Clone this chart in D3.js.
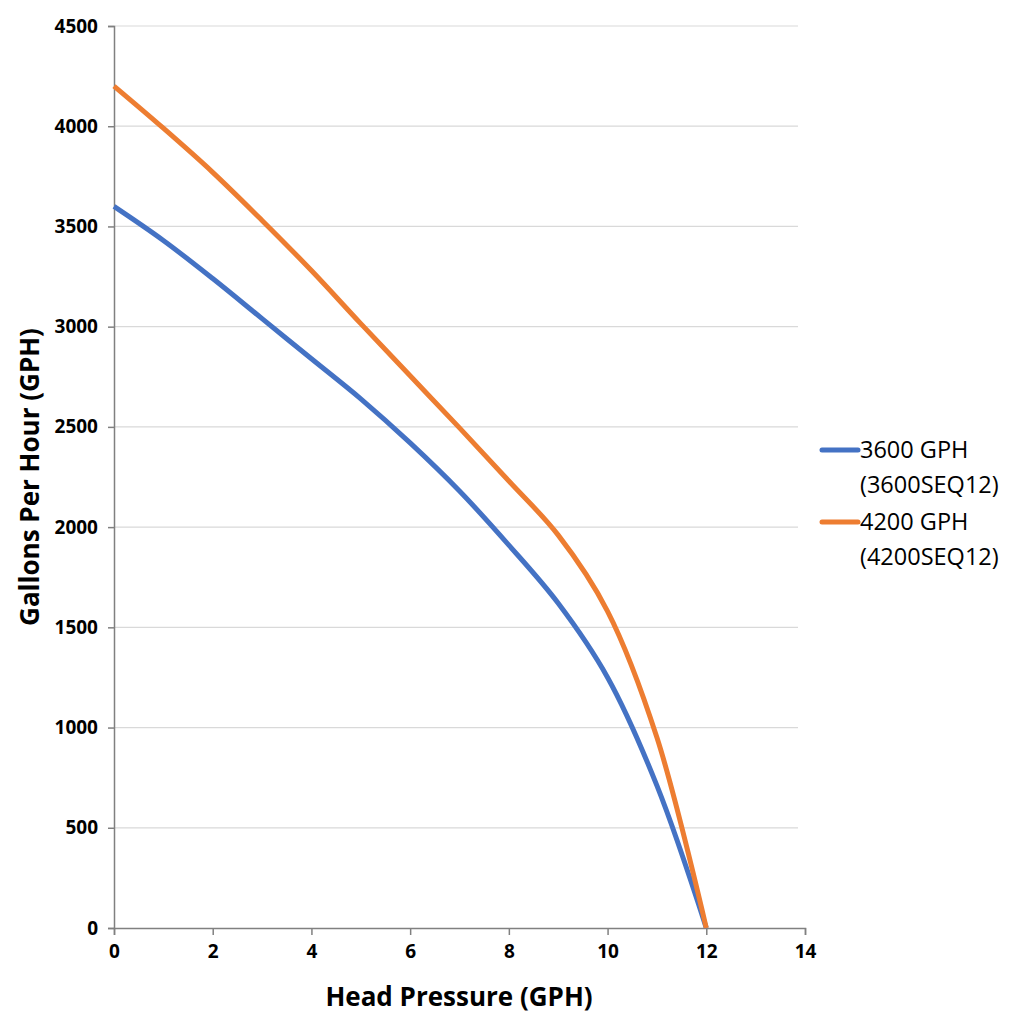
<!DOCTYPE html>
<html>
<head>
<meta charset="utf-8">
<script src="https://cdn.jsdelivr.net/npm/d3@7"></script>
<style>
    body { margin: 0; background: #fff; }
    text { font-family: 'Open Sans', 'Noto Sans', sans-serif; }
    .tick-label { font-size: 19px; font-weight: bold; fill: #000; }
    .axis-title { font-size: 26px; font-weight: bold; fill: #000; }
    .legend-label { font-size: 23.5px; fill: #000; }
</style>
</head>
<body>
<div id="chart"></div>
<script>
const headPressure = [0, 1, 2, 3, 4, 5, 6, 7, 8, 9, 10, 11, 12];
const gph3600 = [3600, 3430, 3240, 3040, 2840, 2640, 2420, 2180, 1910, 1620, 1250, 710, 0];
const gph4200 = [4200, 3990, 3770, 3530, 3280, 3015, 2755, 2495, 2230, 1960, 1580, 950, 0];

const seriesNames = [['3600 GPH', '(3600SEQ12)'], ['4200 GPH', '(4200SEQ12)']];
const seriesColors = ['#4472c4', '#ed7d31'];

const xTicks = [0, 2, 4, 6, 8, 10, 12, 14];
const yTicks = [0, 500, 1000, 1500, 2000, 2500, 3000, 3500, 4000, 4500];

const width = 1024;
const height = 1024;
const margin = { top: 26, left: 114, right: 219, bottom: 96 };

const svg = d3.select('#chart').append('svg').attr('width', width).attr('height', height);

const xScale = d3.scaleLinear().domain([0, 14]).range([margin.left, width - margin.right]);
const yScale = d3.scaleLinear().domain([0, 4500]).range([height - margin.bottom, margin.top]);

// Horizontal grid lines
svg.append('g')
    .selectAll('line')
    .data(yTicks.filter((t) => t > 0))
    .enter()
    .append('line')
    .attr('x1', xScale(0))
    .attr('x2', xScale(14) - 7)
    .attr('y1', (t) => yScale(t))
    .attr('y2', (t) => yScale(t))
    .attr('stroke', '#d9d9d9')
    .attr('stroke-width', 1.2);

// Y axis
const yAxis = svg.append('g')
    .attr('transform', `translate(${xScale(0)}, 0)`)
    .call(d3.axisLeft(yScale).tickValues(yTicks).tickSize(6).tickPadding(10).tickFormat(d3.format('d')));
yAxis.select('.domain').attr('stroke', '#808080').attr('stroke-width', 1.5);
yAxis.selectAll('.tick line').attr('stroke', '#808080').attr('stroke-width', 1.5);
yAxis.selectAll('.tick text').attr('class', 'tick-label').attr('font-family', null).attr('font-size', null);

// X axis
const xAxis = svg.append('g')
    .attr('transform', `translate(0, ${yScale(0)})`)
    .call(d3.axisBottom(xScale).tickValues(xTicks).tickSize(7).tickPadding(10).tickSizeOuter(7));
xAxis.select('.domain').attr('stroke', '#808080').attr('stroke-width', 1.5);
xAxis.selectAll('.tick line').attr('stroke', '#808080').attr('stroke-width', 1.5);
xAxis.selectAll('.tick text').attr('class', 'tick-label').attr('font-family', null).attr('font-size', null);

// Lines
const series = [
    headPressure.map((x, i) => [x, gph3600[i]]),
    headPressure.map((x, i) => [x, gph4200[i]])
];

const line = d3.line()
    .x((d) => xScale(d[0]))
    .y((d) => yScale(d[1]))
    .curve(d3.curveCatmullRom.alpha(0.5));

series.forEach((pts, i) => {
    svg.append('path')
        .datum(pts)
        .attr('fill', 'none')
        .attr('stroke', seriesColors[i])
        .attr('stroke-width', 5)
        .attr('stroke-linejoin', 'round')
        .attr('d', line);
});

// Axis titles
svg.append('text')
    .attr('class', 'axis-title')
    .attr('x', 459)
    .attr('y', 1006)
    .attr('text-anchor', 'middle')
    .text('Head Pressure (GPH)');

svg.append('text')
    .attr('class', 'axis-title')
    .attr('transform', 'translate(39, 477) rotate(-90)')
    .attr('text-anchor', 'middle')
    .text('Gallons Per Hour (GPH)');

// Legend
const legend = svg.append('g').attr('transform', 'translate(822, 450)');
seriesNames.forEach((name, i) => {
    const g = legend.append('g').attr('transform', `translate(0, ${i * 72})`);
    g.append('line')
        .attr('x1', 0)
        .attr('x2', 36)
        .attr('y1', 0)
        .attr('y2', 0)
        .attr('stroke', seriesColors[i])
        .attr('stroke-width', 5)
        .attr('stroke-linecap', 'round');
    g.append('text')
        .attr('class', 'legend-label')
        .attr('x', 38)
        .attr('y', 8)
        .text(name[0]);
    g.append('text')
        .attr('class', 'legend-label')
        .attr('x', 38)
        .attr('y', 43)
        .text(name[1]);
});
</script>
</body>
</html>
